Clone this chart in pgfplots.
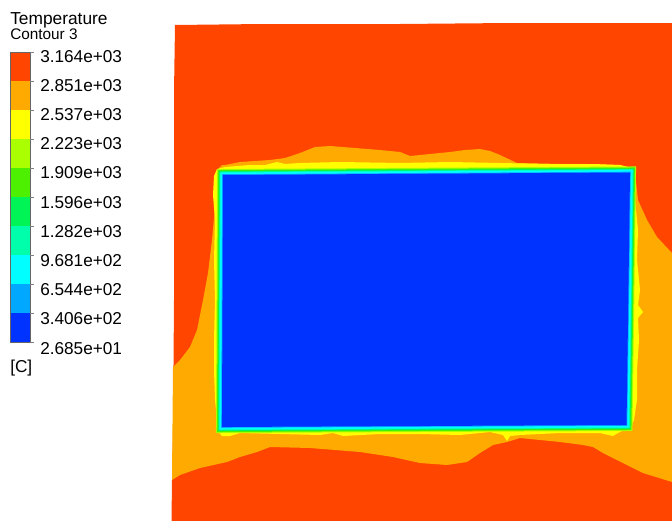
\documentclass[border=0pt]{standalone}
\usepackage{pgfplots}
\pgfplotsset{compat=1.18}
\usepackage{fontspec}
\setmainfont{Liberation Sans}

% ten-band contour palette, hottest first
\definecolor{cA}{HTML}{FF4500}
\definecolor{cB}{HTML}{FFAA00}
\definecolor{cC}{HTML}{FFFF00}
\definecolor{cD}{HTML}{AAFF00}
\definecolor{cE}{HTML}{4CF000}
\definecolor{cF}{HTML}{00F455}
\definecolor{cG}{HTML}{00FFAA}
\definecolor{cH}{HTML}{00FFFF}
\definecolor{cI}{HTML}{00A8FF}
\definecolor{cJ}{HTML}{0033FF}

\tikzset{lab/.style={anchor=base west, inner sep=0pt, font=\fontsize{12.9}{14}\selectfont}}

\begin{document}
\begin{tikzpicture}
\begin{axis}[
  scale only axis, width=504pt, height=390.75pt,
  xmin=0, xmax=672, ymin=0, ymax=521, y dir=reverse,
  hide axis, clip=false,
  every axis plot/.append style={line join=miter},
]
% full canvas, so that the page keeps the whole frame
\addplot[draw=none, fill=none] coordinates {(0,0)(672,0)(672,521)(0,521)} -- cycle;
% ---- colour bar ----
\addplot[fill=cA, draw=none] coordinates {(10,52)(30,52)(30,81)(10,81)} -- cycle;
\addplot[fill=cB, draw=none] coordinates {(10,81)(30,81)(30,110)(10,110)} -- cycle;
\addplot[fill=cC, draw=none] coordinates {(10,110)(30,110)(30,139)(10,139)} -- cycle;
\addplot[fill=cD, draw=none] coordinates {(10,139)(30,139)(30,168)(10,168)} -- cycle;
\addplot[fill=cE, draw=none] coordinates {(10,168)(30,168)(30,197)(10,197)} -- cycle;
\addplot[fill=cF, draw=none] coordinates {(10,197)(30,197)(30,226)(10,226)} -- cycle;
\addplot[fill=cG, draw=none] coordinates {(10,226)(30,226)(30,255)(10,255)} -- cycle;
\addplot[fill=cH, draw=none] coordinates {(10,255)(30,255)(30,284)(10,284)} -- cycle;
\addplot[fill=cI, draw=none] coordinates {(10,284)(30,284)(30,313)(10,313)} -- cycle;
\addplot[fill=cJ, draw=none] coordinates {(10,313)(30,313)(30,342)(10,342)} -- cycle;
\addplot[draw=black!60, line width=0.5pt] coordinates {(10,52)(30,52)(30,342)(10,342)} -- cycle;
% tick marks at the band edges
\addplot[draw=black!50, line width=0.6pt] coordinates {(30,52)(34,52)};
\addplot[draw=black!50, line width=0.6pt] coordinates {(30,81)(34,81)};
\addplot[draw=black!50, line width=0.6pt] coordinates {(30,110)(34,110)};
\addplot[draw=black!50, line width=0.6pt] coordinates {(30,139)(34,139)};
\addplot[draw=black!50, line width=0.6pt] coordinates {(30,168)(34,168)};
\addplot[draw=black!50, line width=0.6pt] coordinates {(30,197)(34,197)};
\addplot[draw=black!50, line width=0.6pt] coordinates {(30,226)(34,226)};
\addplot[draw=black!50, line width=0.6pt] coordinates {(30,255)(34,255)};
\addplot[draw=black!50, line width=0.6pt] coordinates {(30,284)(34,284)};
\addplot[draw=black!50, line width=0.6pt] coordinates {(30,313)(34,313)};
\addplot[draw=black!50, line width=0.6pt] coordinates {(30,342)(34,342)};

% ---- temperature field ----
% hot outer region
\addplot[fill=cA, draw=none] coordinates {
 (175,25)(263,24)(400,24)(510,23)(633,23)(672,23)(672,521)(171.5,521)
 (172,480)(173,430)(174,300)(174,93)} -- cycle;
% second band
\addplot[fill=cB, draw=none] coordinates {
 (214,178)(217,170)(222,165)(225,165)(240,162)(270,160)(285,158)(300,153)
 (315,147)(330,146)(355,148)(380,150)(400,152)(410,156)(430,154)(450,152)
 (465,150)(480,149)(490,151)(500,155)(517,163)(560,164)(590,164)(620,165)
 (632,168)(635,172)(638,200)(647,220)(657,237)(672,253)
 (672,482)(643,473)(623,463)(603,453)(593,447)(583,445)(560,442)(520,438)
 (507,442)(493,445)(480,453)(467,462)(447,465)(420,463)(393,457)(360,452)
 (310,448)(270,447)(257,452)(240,457)(227,462)(200,468)(180,475)(172,480)
 (173,367)(180,360)(190,347)(197,330)(203,300)(208,273)(212,240)(215,207)} -- cycle;
% boundary layer, outer edge
\addplot[fill=cC, draw=none] coordinates {
 (214,176)(217,169)(225,167)(237,166)(250,165)(265,165)(277,162)(285,164)
 (300,163)(340,162)(400,163)(450,162)(500,163)(550,164)(593,164)(620,165)
 (633,168)(636,180)(635,200)(638,230)(637,260)(640,290)(638,305)(643,312)
 (638,318)(639,340)(637,370)(637,400)(634,420)(630,428)(622,431)(616,434)
 (613,436)(600,433)(560,433)(520,435)(510,436)(507,441)(503,435)(490,432)
 (460,435)(420,434)(380,434)(343,436)(333,433)(320,435)(280,434)(240,433)
 (230,436)(222,436)(217,430)(217,420)(215,400)(214,370)(214,340)(215,300)
 (214,260)(215,220)(213,195)} -- cycle;
% inner bands of the boundary layer
\addplot[draw=cD, line width=9pt] coordinates {
 (223,175)(420,173.8)(630,172.5)(628.3,300)(626.5,425)(420,426)(222,427)(222.5,300)} -- cycle;
\addplot[draw=cE, line width=7.5pt] coordinates {
 (223,175)(420,173.8)(630,172.5)(628.3,300)(626.5,425)(420,426)(222,427)(222.5,300)} -- cycle;
\addplot[draw=cF, line width=6pt] coordinates {
 (223,175)(420,173.8)(630,172.5)(628.3,300)(626.5,425)(420,426)(222,427)(222.5,300)} -- cycle;
\addplot[draw=cG, line width=5pt] coordinates {
 (223,175)(420,173.8)(630,172.5)(628.3,300)(626.5,425)(420,426)(222,427)(222.5,300)} -- cycle;
\addplot[draw=cH, line width=3.75pt] coordinates {
 (223,175)(420,173.8)(630,172.5)(628.3,300)(626.5,425)(420,426)(222,427)(222.5,300)} -- cycle;
\addplot[draw=cI, line width=1.2pt] coordinates {
 (223,175)(420,173.8)(630,172.5)(628.3,300)(626.5,425)(420,426)(222,427)(222.5,300)} -- cycle;
% cold core
\addplot[fill=cJ, draw=none] coordinates {
 (223,175)(420,173.8)(630,172.5)(628.3,300)(626.5,425)(420,426)(222,427)(222.5,300)} -- cycle;

% ---- legend text ----
\node[lab, font=\fontsize{13}{15}\selectfont] at (axis cs:10,25) {Temperature};
\node[lab, font=\fontsize{11.5}{13}\selectfont] at (axis cs:10,39.5) {Contour 3};
\node[lab] at (axis cs:40,62) {3.164e+03};
\node[lab] at (axis cs:40,91.2) {2.851e+03};
\node[lab] at (axis cs:40,120.4) {2.537e+03};
\node[lab] at (axis cs:40,149.6) {2.223e+03};
\node[lab] at (axis cs:40,178.8) {1.909e+03};
\node[lab] at (axis cs:40,208) {1.596e+03};
\node[lab] at (axis cs:40,237.2) {1.282e+03};
\node[lab] at (axis cs:40,266.4) {9.681e+02};
\node[lab] at (axis cs:40,295.6) {6.544e+02};
\node[lab] at (axis cs:40,324.8) {3.406e+02};
\node[lab] at (axis cs:40,354) {2.685e+01};
\node[lab] at (axis cs:10,372) {[C]};
\end{axis}
\end{tikzpicture}
\end{document}
